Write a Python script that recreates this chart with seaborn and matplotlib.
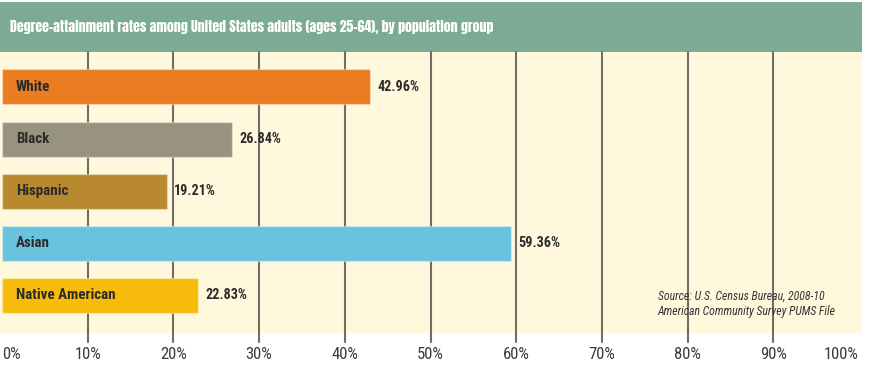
import matplotlib.pyplot as plt
import matplotlib as mpl
import seaborn as sns
import pandas as pd
from matplotlib.patches import Rectangle

# Data
groups = ["White", "Black", "Hispanic", "Asian", "Native American"]
rates = [42.96, 26.84, 19.21, 59.36, 22.83]
bar_colors = ["#ea7c22", "#97937f", "#b8892e", "#69c3df", "#f6bb0b"]
tick_values = [0, 10, 20, 30, 40, 50, 60, 70, 80, 90, 100]
tick_labels = [f"{v}%" for v in tick_values]

title = "Degree-attainment rates among United States adults (ages 25-64), by population group"
source = "Source: U.S. Census Bureau, 2008-10\nAmerican Community Survey PUMS File"

sns.set_style("white")
plt.rcParams["font.family"] = ["Roboto Condensed", "DejaVu Sans"]

df = pd.DataFrame({"group": groups, "rate": rates})

W, H = 873, 370
fig = plt.figure(figsize=(W / 100, H / 100), dpi=100)
fig.patch.set_facecolor("white")

# axes covers the cream plotting area
ax = fig.add_axes([2 / W, 1 - 333 / H, 857 / W, 281 / H])
ax.set_facecolor("#fff8dc")

fig.patches.append(
    Rectangle((0, 1 - 333 / H), 862 / W, 281 / H, transform=fig.transFigure,
              facecolor="#fff8dc", edgecolor="none", zorder=-1)
)
# green title band
fig.patches.append(
    Rectangle((0, 1 - 52 / H), 862 / W, 50 / H, transform=fig.transFigure,
              facecolor="#7bab95", edgecolor="none", zorder=-1)
)
fig.text(10 / W, 1 - 27 / H, title, color="white", fontsize=10,
         va="center", ha="left", family=["Anton", "Roboto Condensed", "DejaVu Sans"])

# grid lines run a little past the bottom of the cream area
for v in tick_values[1:-1]:
    ax.axvline(v, ymin=-0.032, ymax=1, color="#726d66", lw=1.5, zorder=1, clip_on=False)

sns.barplot(data=df, x="rate", y="group", hue="group", palette=bar_colors,
            orient="h", width=0.67, legend=False, ax=ax, zorder=2,
            saturation=1, edgecolor="none")

for bar in ax.patches:
    bar.set_edgecolor(mpl.colors.to_rgba("white", 0.35))
    bar.set_linewidth(1)

for i, (g, r) in enumerate(zip(groups, rates)):
    ax.text(1.6, i, g, va="center", ha="left", fontsize=10.8, fontweight="bold",
            color="#2b2b2b", zorder=3)
    ax.text(r + 0.9, i, f"{r:.2f}%", va="center", ha="left", fontsize=10.2,
            fontweight="bold", color="#2b2b2b", zorder=3)

ax.text(76.5, 4.16, source, fontsize=8.5, style="italic", color="#333333",
        va="center", ha="left", linespacing=1.3)

ax.set_xlim(0, 100)
ax.set_ylim(4.72, -0.67)
ax.set_xticks(tick_values)
ax.set_xticklabels(tick_labels, fontsize=12, color="#3a3a3a")
ax.get_xticklabels()[0].set_ha("left")
ax.get_xticklabels()[-1].set_ha("right")
ax.tick_params(axis="x", length=0, pad=10)
ax.set_yticks([])
ax.set_xlabel("")
ax.set_ylabel("")
for s in ax.spines.values():
    s.set_visible(False)

fig.savefig("out.png", dpi=100)
